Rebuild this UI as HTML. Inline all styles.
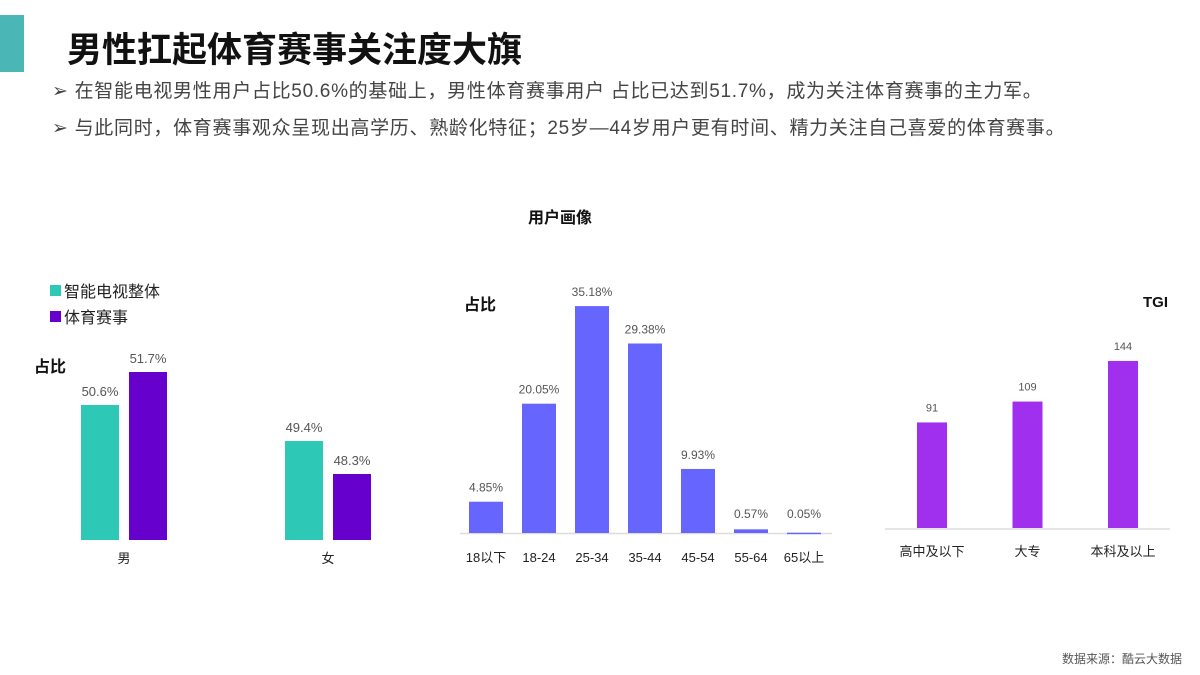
<!DOCTYPE html>
<html><head><meta charset="utf-8">
<style>
body{margin:0;width:1200px;height:675px;background:#fff;overflow:hidden;font-family:"Liberation Sans","Noto Sans CJK SC",sans-serif;position:relative}
.t{position:absolute;white-space:nowrap}
svg{position:absolute;left:0;top:0}
</style></head><body>
<div style="position:absolute;left:0;top:15px;width:24px;height:57px;background:#4bb6b6"></div>
<div class="t" style="left:67px;top:22px;font-size:35px;font-weight:bold;color:#111">男性扛起体育赛事关注度大旗</div>
<div class="t" style="left:52px;top:76px;font-size:19px;letter-spacing:0.7px;color:#444">➢&nbsp;在智能电视男性用户占比50.6%的基础上，男性体育赛事用户 占比已达到51.7%，成为关注体育赛事的主力军。</div>
<div class="t" style="left:52px;top:113px;font-size:19px;letter-spacing:0.7px;color:#444">➢&nbsp;与此同时，体育赛事观众呈现出高学历、熟龄化特征；25岁—44岁用户更有时间、精力关注自己喜爱的体育赛事。</div>
<div class="t" style="left:528px;top:204px;font-size:16px;font-weight:bold;color:#111">用户画像</div>
<div class="t" style="left:1062px;top:650px;font-size:12px;color:#555">数据来源：酷云大数据</div>
<svg id="s" width="1200" height="675"></svg>
<script>
const genderCats=["男","女"];
const tvValues=[50.6,49.4];
const sportValues=[51.7,48.3];
const ageCats=["18以下","18-24","25-34","35-44","45-54","55-64","65以上"];
const ageValues=[4.85,20.05,35.18,29.38,9.93,0.57,0.05];
const eduCats=["高中及以下","大专","本科及以上"];
const tgiValues=[91,109,144];

const s=document.getElementById('s');
const NS='http://www.w3.org/2000/svg';
function mk(tag,a,txt){const e=document.createElementNS(NS,tag);for(const k in a)e.setAttribute(k,a[k]);if(txt!=null)e.textContent=txt;s.appendChild(e);return e;}
const F='"Liberation Sans","Noto Sans CJK SC",sans-serif';

let e;
e=mk('rect',{x:50,y:285,width:11,height:11,fill:'#2ec8b6'});


e=mk('text',{x:64,y:297,'font-size':16,fill:'#222','font-family':F},'智能电视整体');


e=mk('rect',{x:50,y:311,width:11,height:11,fill:'#6600cc'});


e=mk('text',{x:64,y:323,'font-size':16,fill:'#222','font-family':F},'体育赛事');


e=mk('text',{x:34,y:372,'font-size':16,'font-weight':'bold',fill:'#111','font-family':F},'占比');


const yL=v=>540-(v-46.1)*30;
const gx=[81,285];
genderCats.forEach((c,i)=>{
  const x0=gx[i];
  let r=mk('rect',{x:x0,y:yL(tvValues[i]),width:38,height:540-yL(tvValues[i]),fill:'#2ec8b6'});
  
  
  let t=mk('text',{x:x0+19,y:yL(tvValues[i])-9,'font-size':13,fill:'#555','text-anchor':'middle','font-family':F},tvValues[i].toFixed(1)+'%');
  
  
  r=mk('rect',{x:x0+48,y:yL(sportValues[i]),width:38,height:540-yL(sportValues[i]),fill:'#6600cc'});
  
  
  t=mk('text',{x:x0+67,y:yL(sportValues[i])-9,'font-size':13,fill:'#555','text-anchor':'middle','font-family':F},sportValues[i].toFixed(1)+'%');
  
  
  t=mk('text',{x:x0+43,y:563,'font-size':13,fill:'#222','text-anchor':'middle','font-family':F},c);
  
  
});

e=mk('text',{x:464,y:310,'font-size':16,'font-weight':'bold',fill:'#111','font-family':F},'占比');


e=mk('line',{x1:460,x2:832,y1:533.5,y2:533.5,stroke:'#ddd','stroke-width':1.5});


const yM=v=>533-v*6.45;
ageCats.forEach((c,i)=>{
  const x0=469+i*53;
  let r=mk('rect',{x:x0,y:yM(ageValues[i]),width:34,height:Math.max(533-yM(ageValues[i]),1.5),fill:'#6666ff'});
  
  
  let t=mk('text',{x:x0+17,y:Math.min(yM(ageValues[i]),528)-10,'font-size':12,fill:'#555','text-anchor':'middle','font-family':F},ageValues[i].toFixed(2)+'%');
  
  
  t=mk('text',{x:x0+17,y:562,'font-size':13,fill:'#222','text-anchor':'middle','font-family':F},c);
  
  
});

e=mk('text',{x:1168,y:307,'font-size':15,'font-weight':'bold',fill:'#111','text-anchor':'end','font-family':F},'TGI');


e=mk('line',{x1:885,x2:1170,y1:529,y2:529,stroke:'#ddd','stroke-width':1.5});


const yR=v=>528-v*1.16;
eduCats.forEach((c,i)=>{
  const x0=917+i*95.5;
  let r=mk('rect',{x:x0,y:yR(tgiValues[i]),width:30,height:528-yR(tgiValues[i]),fill:'#a030ee'});
  
  
  let t=mk('text',{x:x0+15,y:yR(tgiValues[i])-11,'font-size':11,fill:'#555','text-anchor':'middle','font-family':F},String(tgiValues[i]));
  
  
  t=mk('text',{x:x0+15,y:556,'font-size':13,fill:'#222','text-anchor':'middle','font-family':F},c);
  
  
});
</script>
</body></html>
